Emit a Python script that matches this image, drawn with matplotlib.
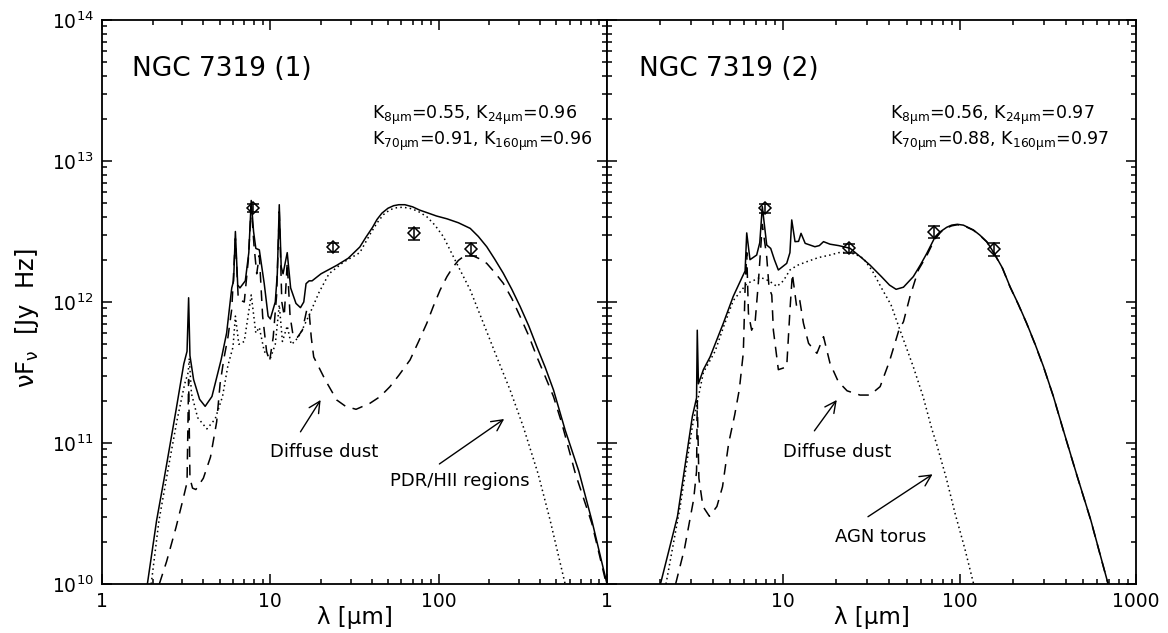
import numpy as np
import matplotlib
matplotlib.use("Agg")
import matplotlib.pyplot as plt
from matplotlib.ticker import FixedLocator, FixedFormatter, LogLocator, NullFormatter, LogFormatterMathtext

plt.rcParams["font.family"] = "DejaVu Sans"
plt.rcParams["mathtext.default"] = "regular"

# --- photometry (Spitzer 8, 24, 70, 160 um), units of 1e12 Jy Hz ---
phot_wave = [7.87, 23.7, 71.4, 156.0]
phot1 = [4.67, 2.44, 3.07, 2.37]
phot1_err = [0.32, 0.17, 0.30, 0.25]
phot2 = [4.61, 2.40, 3.16, 2.37]
phot2_err = [0.32, 0.17, 0.31, 0.25]

# --- NGC 7319 (1): model components, log10(nuFnu / Jy Hz) ---
tot1_wave = [1.86, 2.11, 2.35, 2.75, 3.06, 3.2, 3.27, 3.33, 3.5, 3.8, 4.1, 4.5, 5.1, 5.5,
             5.9, 6.05, 6.2, 6.4, 6.6, 7.1, 7.45, 7.7, 7.95, 8.2, 8.6, 9.2, 9.7, 10.0, 10.4,
             10.7, 11.0, 11.3, 11.6, 11.9, 12.6, 13.2, 14.2, 15.1, 15.8, 16.3, 17.0, 17.7,
             20.0, 24.8, 29.0, 34.0, 37.0, 40.5, 43.0, 46.0, 50.0, 54.0, 58.0, 63.0, 70.0,
             77.0, 87.0, 97.0, 112.0, 131.0, 154.0, 172.0, 193.0, 215.0, 242.0, 272.0, 305.0,
             343.0, 383.0, 430.0, 481.0, 564.0, 680.0, 813.0, 1000.0]
tot1_logf = [10.0, 10.45, 10.76, 11.23, 11.56, 11.65, 12.03, 11.62, 11.45, 11.31, 11.26, 11.33,
             11.59, 11.78, 12.1, 12.15, 12.50, 12.12, 12.1, 12.15, 12.35, 12.72, 12.5, 12.38,
             12.37, 12.13, 11.9, 11.88, 11.95, 12.0, 12.2, 12.69, 12.25, 12.2, 12.35, 12.1,
             11.99, 11.96, 12.0, 12.13, 12.15, 12.15, 12.2, 12.26, 12.31, 12.39, 12.46, 12.53,
             12.585, 12.63, 12.665, 12.683, 12.69, 12.69, 12.675, 12.652, 12.63, 12.61, 12.59,
             12.562, 12.522, 12.465, 12.392, 12.305, 12.204, 12.09, 11.967, 11.83, 11.683,
             11.535, 11.376, 11.092, 10.8, 10.45, 10.0]

pdr1_wave = [1.96, 2.18, 2.5, 2.8, 3.1, 3.25, 3.3, 3.4, 3.7, 4.2, 4.7, 5.2, 5.6, 6.0, 6.2,
             6.5, 7.0, 7.7, 8.2, 8.6, 9.2, 10.0, 10.7, 11.3, 11.8, 12.6, 13.3, 14.0, 15.0, 16.0,
             17.2, 19.5, 22.3, 27.0, 34.0, 39.1, 43.0, 47.0, 51.5, 56.4, 61.5, 67.6, 75.0, 85.0,
             95.0, 106.7, 128.0, 154.0, 184.5, 221.0, 265.6, 318.0, 390.0, 459.0, 564.0]
pdr1_logf = [10.0, 10.45, 10.85, 11.17, 11.42, 11.5, 11.6, 11.35, 11.18, 11.10, 11.17, 11.33,
             11.55, 11.68, 11.9, 11.7, 11.72, 12.05, 11.78, 11.82, 11.65, 11.6, 11.7, 11.98,
             11.72, 11.83, 11.7, 11.72, 11.77, 11.84, 11.92, 12.07, 12.2, 12.28, 12.35, 12.48,
             12.56, 12.62, 12.655, 12.669, 12.672, 12.664, 12.645, 12.605, 12.545, 12.463,
             12.274, 12.085, 11.849, 11.612, 11.376, 11.116, 10.78, 10.454, 10.0]

dust1_wave = [2.19, 2.42, 2.75, 3.0, 3.2, 3.27, 3.33, 3.45, 3.61, 4.0, 4.41, 4.8, 5.03, 5.3,
              5.6, 5.9, 6.2, 6.45, 7.0, 7.4, 7.7, 8.0, 8.3, 8.6, 9.0, 9.5, 9.9, 10.4, 10.9,
              11.3, 11.7, 12.1, 12.6, 13.1, 13.7, 14.5, 15.5, 16.5, 17.0, 17.5, 18.1, 21.2,
              24.8, 28.0, 32.3, 39.1, 45.0, 51.4, 58.0, 67.6, 76.0, 85.0, 93.0, 102.0, 112.0,
              122.0, 131.0, 140.0, 150.0, 161.0, 176.0, 193.0, 215.0, 242.0, 272.0, 305.0,
              343.0, 383.0, 430.0, 481.0, 539.0, 650.0, 813.0, 1000.0]
dust1_logf = [10.0, 10.16, 10.40, 10.58, 10.72, 11.45, 10.75, 10.68, 10.67, 10.75, 10.9, 11.15,
              11.42, 11.6, 11.75, 11.95, 12.45, 12.02, 12.0, 12.3, 12.68, 12.4, 12.2, 12.33,
              11.9, 11.65, 11.58, 11.75, 12.05, 12.64, 12.0, 11.9, 12.28, 11.9, 11.75, 11.75,
              11.80, 11.95, 11.93, 11.75, 11.61, 11.447, 11.305, 11.26, 11.239, 11.282, 11.33,
              11.40, 11.48, 11.589, 11.72, 11.849, 11.97, 12.085, 12.18, 12.25, 12.295, 12.321,
              12.332, 12.326, 12.305, 12.274, 12.21, 12.133, 12.025, 11.896, 11.76, 11.612,
              11.47, 11.329, 11.14, 10.78, 10.43, 9.98]

# --- NGC 7319 (2) ---
tot2_wave = [2.01, 2.51, 3.05, 3.22, 3.25, 3.3, 3.52, 3.84, 4.57, 5.2, 5.81, 6.07, 6.2, 6.47,
             7.06, 7.35, 7.6, 8.05, 8.48, 8.9, 9.37, 10.45, 10.9, 11.16, 11.65, 12.2, 12.6,
             13.3, 15.1, 16.0, 16.9, 18.4, 20.6, 23.9, 28.0, 31.0, 36.0, 40.0, 43.6, 48.0,
             54.6, 60.0, 65.1, 71.9, 78.0, 84.5, 90.0, 97.0, 105.0, 119.6, 130.0, 142.5, 157.0,
             175.0, 193.0, 215.0, 240.0, 268.0, 299.0, 340.0, 387.0, 460.0, 554.0, 695.0]
tot2_logf = [10.0, 10.48, 11.19, 11.32, 11.80, 11.42, 11.52, 11.61, 11.85, 12.04, 12.17,
             12.22, 12.49, 12.30, 12.333, 12.42, 12.676, 12.404, 12.38, 12.3, 12.227, 12.274,
             12.35, 12.582, 12.428, 12.43, 12.487, 12.416, 12.392, 12.40, 12.428, 12.41, 12.40,
             12.381, 12.31, 12.262, 12.18, 12.12, 12.09, 12.105, 12.18, 12.265, 12.345, 12.452,
             12.50, 12.53, 12.545, 12.551, 12.545, 12.511, 12.475, 12.428, 12.345, 12.24,
             12.109, 11.985, 11.849, 11.70, 11.541, 11.33, 11.092, 10.78, 10.454, 10.0]

agn2_wave = [2.16, 2.6, 3.05, 3.52, 4.1, 4.6, 5.2, 6.2, 7.4, 8.3, 9.2, 10.0, 10.9, 12.0,
             13.6, 15.8, 18.4, 20.6, 22.9, 25.5, 28.4, 32.0, 36.0, 40.8, 45.9, 54.6, 62.0,
             69.5, 73.7, 84.0, 94.2, 107.0, 120.0]
agn2_logf = [10.0, 10.55, 11.12, 11.50, 11.65, 11.83, 12.01, 12.13, 12.175, 12.15, 12.11,
             12.15, 12.227, 12.26, 12.286, 12.315, 12.333, 12.35, 12.352, 12.34, 12.31, 12.22,
             12.1, 11.98, 11.80, 11.54, 11.33, 11.10, 11.0, 10.75, 10.50, 10.25, 10.0]

dust2_wave = [2.45, 2.75, 3.1, 3.22, 3.25, 3.32, 3.5, 3.81, 4.2, 4.52, 4.9, 5.3, 5.63, 5.93,
              6.07, 6.2, 6.34, 6.61, 6.91, 7.21, 7.6, 8.05, 8.3, 8.6, 8.78, 9.37, 10.45, 10.9,
              11.25, 11.9, 12.4, 13.0, 13.9, 15.5, 16.9, 18.4, 20.5, 23.0, 27.2, 31.0, 35.4,
              40.0, 45.2, 48.0, 52.3, 58.3, 65.1, 71.9, 78.0, 84.5, 90.0, 97.0, 105.0, 119.6,
              130.0, 142.5, 157.0, 175.0, 193.0, 215.0, 240.0, 268.0, 299.0, 340.0, 387.0,
              460.0, 554.0, 695.0]
dust2_logf = [10.0, 10.25, 10.6, 10.8, 11.3, 10.75, 10.55, 10.48, 10.55, 10.69, 11.0, 11.2,
              11.38, 11.64, 12.1, 12.35, 11.92, 11.80, 11.85, 12.13, 12.55, 12.32, 12.1, 12.05,
              11.80, 11.52, 11.54, 11.94, 12.2, 11.967, 12.01, 11.85, 11.707, 11.636, 11.754,
              11.565, 11.435, 11.37, 11.34, 11.34, 11.40, 11.58, 11.80, 11.86, 12.04, 12.227,
              12.33, 12.44, 12.495, 12.525, 12.54, 12.548, 12.542, 12.509, 12.473, 12.426,
              12.343, 12.238, 12.107, 11.983, 11.847, 11.698, 11.539, 11.33, 11.09, 10.778,
              10.452, 9.998]

panels = [
    dict(title="NGC 7319 (1)",
         ktext=[r"K$_{8\mu m}$=0.55, K$_{24\mu m}$=0.96", r"K$_{70\mu m}$=0.91, K$_{160\mu m}$=0.96"],
         tot=(tot1_wave, tot1_logf), hot=(pdr1_wave, pdr1_logf), dust=(dust1_wave, dust1_logf),
         phot=phot1, err=phot1_err,
         notes=[("Diffuse dust", (21.0, 8.7e10), (19.9, 2.02e11), (15.1, 1.2e11)),
                ("PDR/HII regions", (134.0, 5.37e10), (245.0, 1.48e11), (101.0, 7.1e10))]),
    dict(title="NGC 7319 (2)",
         ktext=[r"K$_{8\mu m}$=0.56, K$_{24\mu m}$=0.97", r"K$_{70\mu m}$=0.88, K$_{160\mu m}$=0.97"],
         tot=(tot2_wave, tot2_logf), hot=(agn2_wave, agn2_logf), dust=(dust2_wave, dust2_logf),
         phot=phot2, err=phot2_err,
         notes=[("Diffuse dust", (20.3, 8.7e10), (20.1, 2.02e11), (15.0, 1.22e11)),
                ("AGN torus", (35.6, 2.16e10), (70.2, 6.0e10), (30.2, 3.0e10))]),
]

fig = plt.figure(figsize=(11.68, 6.33), dpi=100)
ax1 = fig.add_axes([102 / 1168, 49 / 633, 505 / 1168, 564 / 633])
ax2 = fig.add_axes([607 / 1168, 49 / 633, 529 / 1168, 564 / 633])

for i, (ax, p) in enumerate(zip([ax1, ax2], panels)):
    ax.set_xscale("log")
    ax.set_yscale("log")

    w, lf = p["tot"]
    ax.plot(w, 10 ** np.array(lf), color="k", lw=1.1, ls="-")
    w, lf = p["hot"]
    ax.plot(w, 10 ** np.array(lf), color="k", lw=1.1, ls=(0, (1, 2.1)))
    w, lf = p["dust"]
    ax.plot(w, 10 ** np.array(lf), color="k", lw=1.1, ls=(0, (7, 5)))

    flux = np.array(p["phot"]) * 1e12
    err = np.array(p["err"]) * 1e12
    ax.errorbar(phot_wave, flux, yerr=err, fmt="none", ecolor="k", elinewidth=1.1,
                capsize=4.2, capthick=1.1)
    ax.plot(phot_wave, flux, "D", ms=6, mfc="none", mec="k", mew=1.1)

    ax.set_xlim(1, 1000)
    ax.set_ylim(1e10, 1e14)

    ax.xaxis.set_major_locator(FixedLocator([1, 10, 100, 1000]))
    if i == 0:
        ax.xaxis.set_major_formatter(FixedFormatter(["1", "10", "100", ""]))
    else:
        ax.xaxis.set_major_formatter(FixedFormatter(["1", "10", "100", "1000"]))
    ax.xaxis.set_minor_locator(LogLocator(base=10, subs=np.arange(2, 10), numticks=20))
    ax.xaxis.set_minor_formatter(NullFormatter())
    ax.yaxis.set_major_locator(LogLocator(base=10, numticks=10))
    ax.yaxis.set_major_formatter(LogFormatterMathtext())
    ax.yaxis.set_minor_locator(LogLocator(base=10, subs=np.arange(2, 10), numticks=20))
    ax.yaxis.set_minor_formatter(NullFormatter())

    ax.tick_params(which="both", direction="in", top=True, right=True, width=1.1,
                   labelsize=13.5, pad=6)
    ax.tick_params(which="major", length=7.5)
    ax.tick_params(which="minor", length=3.6)
    if i == 1:
        ax.tick_params(labelleft=False)
    for s in ax.spines.values():
        s.set_linewidth(1.3)

    ax.set_xlabel("λ [μm]", fontsize=16.5, va="center")
    ax.xaxis.set_label_coords(0.5, -0.06)

    ax.text(0.06, 0.9, p["title"], transform=ax.transAxes, fontsize=19, va="baseline")
    ax.text(0.535, 0.824, p["ktext"][0], transform=ax.transAxes, fontsize=12.5, va="baseline")
    ax.text(0.535, 0.778, p["ktext"][1], transform=ax.transAxes, fontsize=12.5, va="baseline")

    for label, txt_xy, head, tail in p["notes"]:
        ax.text(txt_xy[0], txt_xy[1], label, fontsize=13, ha="center", va="center")
        ax.annotate("", xy=head, xytext=tail,
                    arrowprops=dict(arrowstyle="->", color="k", lw=1.0,
                                    mutation_scale=20, shrinkA=0, shrinkB=0))

ax1.set_ylabel(r"$\nu$F$_\nu$  [Jy  Hz]", fontsize=17.5, va="center")
ax1.yaxis.set_label_coords(-0.148, 0.472)

fig.savefig("out.png", dpi=100)
